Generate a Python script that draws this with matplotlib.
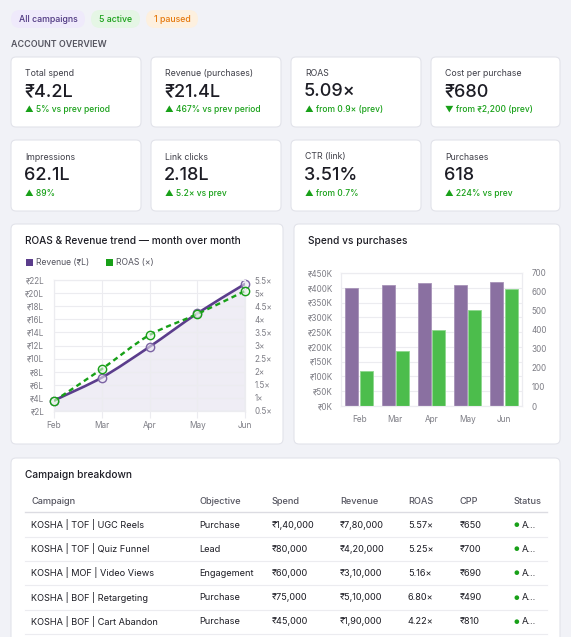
import numpy as np
import matplotlib
matplotlib.use('Agg')
import matplotlib.pyplot as plt
from matplotlib.patches import FancyBboxPatch, Rectangle, PathPatch
from matplotlib.path import Path

plt.rcParams['font.family'] = ['Inter', 'DejaVu Sans']

W, H = 571, 637

# ---- data
pills = ['All campaigns', '5 active', '1 paused']

kpi_labels = ['Total spend', 'Revenue (purchases)', 'ROAS', 'Cost per purchase',
              'Impressions', 'Link clicks', 'CTR (link)', 'Purchases']
kpi_values = ['₹4.2L', '₹21.4L', '5.09×', '₹680',
              '62.1L', '2.18L', '3.51%', '618']
kpi_deltas = ['▲ 5% vs prev period', '▲ 467% vs prev period', '▲ from 0.9× (prev)',
              '▼ from ₹2,200 (prev)', '▲ 89%', '▲ 5.2× vs prev', '▲ from 0.7%',
              '▲ 224% vs prev']

months = ['Feb', 'Mar', 'Apr', 'May', 'Jun']
revenue_l = [3.6, 7.1, 11.8, 16.9, 21.4]
roas = [0.88, 2.1, 3.4, 4.2, 5.08]
spend_k = [400, 410, 415, 408, 420]
purchases = [182, 290, 398, 506, 616]

tbl_cols = ['Campaign', 'Objective', 'Spend', 'Revenue', 'ROAS', 'CPP', 'Status']
tbl_campaign = ['KOSHA | TOF | UGC Reels', 'KOSHA | TOF | Quiz Funnel',
                'KOSHA | MOF | Video Views', 'KOSHA | BOF | Retargeting',
                'KOSHA | BOF | Cart Abandon']
tbl_objective = ['Purchase', 'Lead', 'Engagement', 'Purchase', 'Purchase']
tbl_spend = ['₹1,40,000', '₹80,000', '₹60,000', '₹75,000', '₹45,000']
tbl_revenue = ['₹7,80,000', '₹4,20,000', '₹3,10,000', '₹5,10,000', '₹1,90,000']
tbl_roas = ['5.57×', '5.25×', '5.16×', '6.80×', '4.22×']
tbl_cpp = ['₹650', '₹700', '₹690', '₹490', '₹810']
tbl_status = ['A...', 'A...', 'A...', 'A...', 'A...']

# ---- colours
BG = '#f1f2f7'
CARD_EDGE = '#e2e3ea'
PURPLE = '#5b3d8c'
BAR_PURPLE = '#8a70a1'
GREEN = '#18a018'
BAR_GREEN = '#4cbd4c'
TXT = '#1c1c24'
MUTED = '#555560'
TICK = '#7d7d85'
GRID = '#ececf0'

fig = plt.figure(figsize=(W / 100, H / 100), dpi=100)
fig.patch.set_facecolor(BG)
bg = fig.add_axes([0, 0, 1, 1])
bg.set_xlim(0, W)
bg.set_ylim(H, 0)
bg.axis('off')


def rect(x0, y0, x1, y1):
    return [x0 / W, 1 - y1 / H, (x1 - x0) / W, (y1 - y0) / H]


def card(x0, y0, x1, y1, r=5):
    bg.add_patch(FancyBboxPatch((x0, y0), x1 - x0, y1 - y0,
                                boxstyle='round,pad=0,rounding_size=%d' % r,
                                fc='white', ec=CARD_EDGE, lw=0.8))


# ---- pills
pill_box = [(11, 85), (91, 140), (146, 198)]
pill_fc = ['#efeafb', '#e5f6e5', '#fdf0df']
pill_tc = ['#4d3580', '#17a017', '#e5780c']
for name, (a, b), fc, tc in zip(pills, pill_box, pill_fc, pill_tc):
    bg.add_patch(FancyBboxPatch((a, 10), b - a, 18,
                                boxstyle='round,pad=0,rounding_size=9', fc=fc, ec='none'))
    bg.text((a + b) / 2, 19.5, name, color=tc, fontsize=6.3, weight='medium',
            ha='center', va='center')

bg.text(11, 44.5, 'ACCOUNT OVERVIEW', color=MUTED, fontsize=6.4, weight='semibold',
        ha='left', va='center')

# ---- KPI cards
xs = [(11, 141), (151, 281), (291, 421), (431, 560)]
rows = [(57, 127), (140, 211)]
for i in range(8):
    x0, x1 = xs[i % 4]
    y0, y1 = rows[i // 4]
    card(x0, y0, x1, y1)
    bg.text(x0 + 14, y0 + 17, kpi_labels[i], color='#3f3f48', fontsize=6.3,
            ha='left', va='center')
    bg.text(x0 + 13, y0 + 35, kpi_values[i], color=TXT, fontsize=13,
            weight='medium', ha='left', va='center')
    bg.text(x0 + 14, y0 + 53, kpi_deltas[i], color=GREEN, fontsize=6.1,
            weight='medium', ha='left', va='center')

# ---- chart cards
card(11, 224, 283, 444)
card(294, 224, 560, 444)
bg.text(25, 241, 'ROAS & Revenue trend — month over month', color=TXT, fontsize=7.3,
        weight='medium', ha='left', va='center')
bg.text(308, 241, 'Spend vs purchases', color=TXT, fontsize=7.3,
        weight='medium', ha='left', va='center')
bg.add_patch(Rectangle((26, 258.5), 7, 7, fc=PURPLE, ec='none'))
bg.text(36, 262, 'Revenue (₹L)', color=MUTED, fontsize=6.2, ha='left', va='center')
bg.add_patch(Rectangle((106, 258.5), 7, 7, fc=GREEN, ec='none'))
bg.text(116, 262, 'ROAS (×)', color=MUTED, fontsize=6.2, ha='left', va='center')


def spline_path(xv, yv, sx, sy, t=0.3):
    # Chart.js style cubic spline through the points
    xv = np.asarray(xv, float)
    yv = np.asarray(yv, float)
    n = len(xv)
    cps = []
    for i in range(n):
        p = (xv[max(i - 1, 0)], yv[max(i - 1, 0)])
        c = (xv[i], yv[i])
        q = (xv[min(i + 1, n - 1)], yv[min(i + 1, n - 1)])
        d01 = np.hypot((c[0] - p[0]) / sx, (c[1] - p[1]) / sy)
        d12 = np.hypot((q[0] - c[0]) / sx, (q[1] - c[1]) / sy)
        tot = d01 + d12 if d01 + d12 else 1
        fa = t * d01 / tot
        fb = t * d12 / tot
        dx, dy = q[0] - p[0], q[1] - p[1]
        cps.append(((c[0] - fa * dx, c[1] - fa * dy), (c[0] + fb * dx, c[1] + fb * dy)))
    verts = [(xv[0], yv[0])]
    codes = [Path.MOVETO]
    for i in range(1, n):
        verts += [cps[i - 1][1], cps[i][0], (xv[i], yv[i])]
        codes += [Path.CURVE4] * 3
    return verts, codes


def style_axis(ax):
    for s in ax.spines.values():
        s.set_color(GRID)
        s.set_linewidth(0.8)
    ax.tick_params(colors=TICK, labelsize=5.8, length=0)
    ax.set_facecolor('none')


# ---- line chart
ax1 = fig.add_axes(rect(54, 280, 245, 411))
x = np.arange(len(months))
ax1.set_xlim(0, len(months) - 1)
ax1.set_ylim(2, 22)
ax1.set_yticks(np.arange(2, 23, 2))
ax1.set_yticklabels(['₹%dL' % v for v in np.arange(2, 23, 2)])
ax1.set_xticks(x)
ax1.set_xticklabels(months)
ax1.grid(True, color=GRID, lw=0.8)
style_axis(ax1)
ax1.tick_params(axis='y', pad=7)
ax1.tick_params(axis='x', pad=2.5, length=5, color=GRID, labelsize=5.9)

v, c = spline_path(x, revenue_l, 4, 20)
fill_v = v + [(x[-1], 2), (x[0], 2), (x[0], 2)]
fill_c = c + [Path.LINETO, Path.LINETO, Path.CLOSEPOLY]
ax1.add_patch(PathPatch(Path(fill_v, fill_c), fc='#efedf5', ec='none', zorder=1))
ax1.add_patch(PathPatch(Path(v, c), fc='none', ec=PURPLE, lw=1.9, zorder=3,
                        capstyle='round'))
ax1.plot(x, revenue_l, ls='none', marker='o', ms=6, mfc=(0.93, 0.91, 0.96, 0.6),
         mec='#7b63a3', mew=1.0, zorder=4, clip_on=False)

ax1r = ax1.twinx()
ax1r.set_ylim(0.5, 5.5)
ax1r.set_yticks(np.arange(0.5, 5.6, 0.5))
ax1r.set_yticklabels(['%g×' % v for v in np.arange(0.5, 5.6, 0.5)])
style_axis(ax1r)
ax1r.tick_params(axis='y', pad=7)
v2, c2 = spline_path(x, roas, 4, 5)
ax1r.add_patch(PathPatch(Path(v2, c2), fc='none', ec=GREEN, lw=1.7, zorder=3,
                         linestyle=(0, (2.2, 1.6))))
ax1r.plot(x, roas, ls='none', marker='o', ms=6, mfc=(0.89, 0.95, 0.89, 0.6),
          mec=GREEN, mew=1.0, zorder=4, clip_on=False)

# ---- bar chart
ax2 = fig.add_axes(rect(341, 273, 522, 406))
w = 0.8 / 2 * 0.9
ax2.bar(x - w / 2 - 0.02, spend_k, width=w, color=BAR_PURPLE, ec='#a793b8', lw=0.6, zorder=2)
ax2.set_xlim(-0.5, len(months) - 0.5)
ax2.set_ylim(0, 450)
ax2.set_yticks(np.arange(0, 451, 50))
ax2.set_yticklabels(['₹%dK' % v for v in np.arange(0, 451, 50)])
ax2.set_xticks(x)
ax2.set_xticklabels(months)
ax2.grid(True, axis='y', color=GRID, lw=0.8, zorder=0)
ax2.set_axisbelow(True)
style_axis(ax2)
ax2.tick_params(axis='y', pad=6)
ax2.tick_params(axis='x', pad=6.5, labelsize=5.9)

ax2r = ax2.twinx()
ax2r.bar(x + w / 2 + 0.02, purchases, width=w, color=BAR_GREEN, ec='#8fd88f', lw=0.6, zorder=2)
ax2r.set_ylim(0, 700)
ax2r.set_yticks(np.arange(0, 701, 100))
style_axis(ax2r)
ax2r.tick_params(axis='y', pad=7)

# ---- table
card(11, 458, 560, 660)
bg.text(25, 475, 'Campaign breakdown', color=TXT, fontsize=7.3, weight='medium',
        ha='left', va='center')
col_x = [31, 199, 272, 340, 408, 460, 513]
for cx, name in zip(col_x, tbl_cols):
    bg.text(cx, 502, name, color=MUTED, fontsize=6.6, weight='medium',
            ha='left', va='center')
bg.plot([25, 547], [512, 512], color='#dcdce2', lw=1)
row_y = [525, 549, 573, 597.5, 621.5]
columns = [tbl_campaign, tbl_objective, tbl_spend, tbl_revenue, tbl_roas, tbl_cpp]
for r, ry in enumerate(row_y):
    for cx, col in zip(col_x, columns):
        bg.text(cx, ry, col[r], color=TXT, fontsize=6.6, ha='left', va='center')
    bg.text(col_x[6], ry, '●', color=GREEN, fontsize=4.5, ha='left', va='center')
    bg.text(col_x[6] + 9, ry, tbl_status[r], color=TXT, fontsize=6.6,
            ha='left', va='center')
    bg.plot([25, 547], [ry + 12, ry + 12], color='#ececf0', lw=0.8)

fig.savefig('out.png', dpi=100, facecolor=BG)
